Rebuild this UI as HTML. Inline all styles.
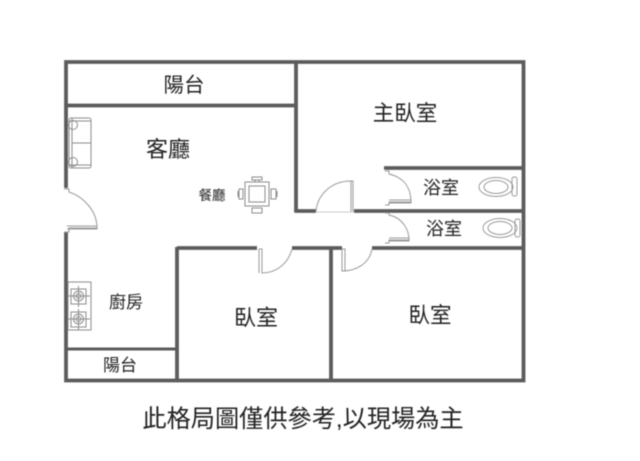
<!DOCTYPE html>
<html><head><meta charset="utf-8"><style>
html,body{margin:0;padding:0;background:#fff}
svg{display:block}
text{font-family:"Liberation Sans","Noto Sans CJK TC",sans-serif;fill:#222;text-anchor:middle}
</style></head><body>
<svg width="640" height="461" viewBox="0 0 640 461" xmlns="http://www.w3.org/2000/svg">
<defs><filter id="b" filterUnits="userSpaceOnUse" x="0" y="0" width="640" height="461"><feGaussianBlur stdDeviation="0.45"/></filter></defs>
<rect width="640" height="461" fill="#fff"/>
<g filter="url(#b)">
<g stroke="#5c5c5c" stroke-width="3.8" fill="none">
<path d="M66 188V62H523.500V380.500H66V232"/>
<path d="M66 105.500H296M296 61V212.500M295 211H316M354 211H523M384 168H523"/>
<path d="M177 248H257M292 248H342M372 248H523"/>
<path d="M177 247V380M331 247V380"/>
<path d="M66 349H177" stroke-width="3"/>
</g>
<!-- doors -->
<g stroke="#9a9a9a" stroke-width="1" fill="none">
<path d="M64 189H69V192C84 197 97 211 97 228H69V232H64"/>
<path d="M67 226H97V229H67"/>
<path d="M316 212C317 195 331 181 351 181V212"/><path d="M350 181H353V212H350"/>
<path d="M316 212H354" stroke="#ccc"/>
<path d="M385 171H389V174C406 178 411 190 411 202H389V205H385"/><path d="M389 200H411V203H389"/>
<path d="M385 213H389V215C403 218 409 230 409 240H389V243H385"/><path d="M389 238H409V241H389"/>
<path d="M342 249V271C358 271 370 262 372 249"/><path d="M342 249H345V271H342"/>
<path d="M259 249H262V273C276 273 288 264 292 249"/><path d="M259 249V273"/>
</g>
<!-- sofa -->
<g stroke="#8c8c8c" stroke-width="1" fill="none">
<rect x="69" y="118" width="22" height="50" rx="2"/>
<path d="M72 118V168M72 143H91M69 121H91M69 165H91"/>
<circle cx="73" cy="125" r="4.500"/><circle cx="73" cy="162" r="4.500"/>
</g>
<!-- dining table -->
<g stroke="#8c8c8c" stroke-width="1" fill="none">
<rect x="245" y="182" width="24" height="24"/><rect x="249" y="186" width="16" height="16"/>
<path d="M252 177H262V180H252ZM255 180V182H259V180M252 208H262V213H252ZM239 189V199H243V189ZM271 189V199H276V189ZM238 191V197M277 191V197"/>
</g>
<!-- stove -->
<g stroke="#8c8c8c" stroke-width="1" fill="none">
<rect x="68" y="282" width="23" height="48"/>
<rect x="71" y="289" width="15" height="15"/><rect x="71" y="312" width="15" height="15"/>
<circle cx="78.500" cy="296" r="5"/><circle cx="78.500" cy="296" r="2.500"/>
<circle cx="78.500" cy="319" r="5"/><circle cx="78.500" cy="319" r="2.500"/>
<path d="M68 296H90M78.500 286V307M68 319H90M78.500 309V330"/>
</g>
<!-- toilets -->
<g stroke="#9a9a9a" stroke-width="1" fill="none">
<ellipse cx="496" cy="187" rx="17" ry="9.500"/><ellipse cx="496" cy="187" rx="12" ry="6.500"/>
<rect x="512" y="177" width="5" height="19" rx="2"/>
<ellipse cx="500" cy="228" rx="17" ry="9.500"/><ellipse cx="500" cy="228" rx="12" ry="6.500"/>
<rect x="515" y="219" width="5" height="18" rx="2"/>
</g>
<text x="184" y="92" font-size="20.500">陽台</text>
<text x="168" y="157" font-size="22">客廳</text>
<text x="212" y="200" font-size="13.500">餐廳</text>
<text x="405" y="120.500" font-size="21.500">主臥室</text>
<text x="441" y="194" font-size="18">浴室</text>
<text x="444" y="235" font-size="18">浴室</text>
<text x="126" y="308" font-size="17">廚房</text>
<text x="256" y="325.500" font-size="22">臥室</text>
<text x="430" y="322.500" font-size="21.500">臥室</text>
<text x="120" y="371" font-size="17">陽台</text>
<text x="303" y="427" font-size="24.200">此格局圖僅供參考,以現場為主</text>
</g>
</svg>
</body></html>
